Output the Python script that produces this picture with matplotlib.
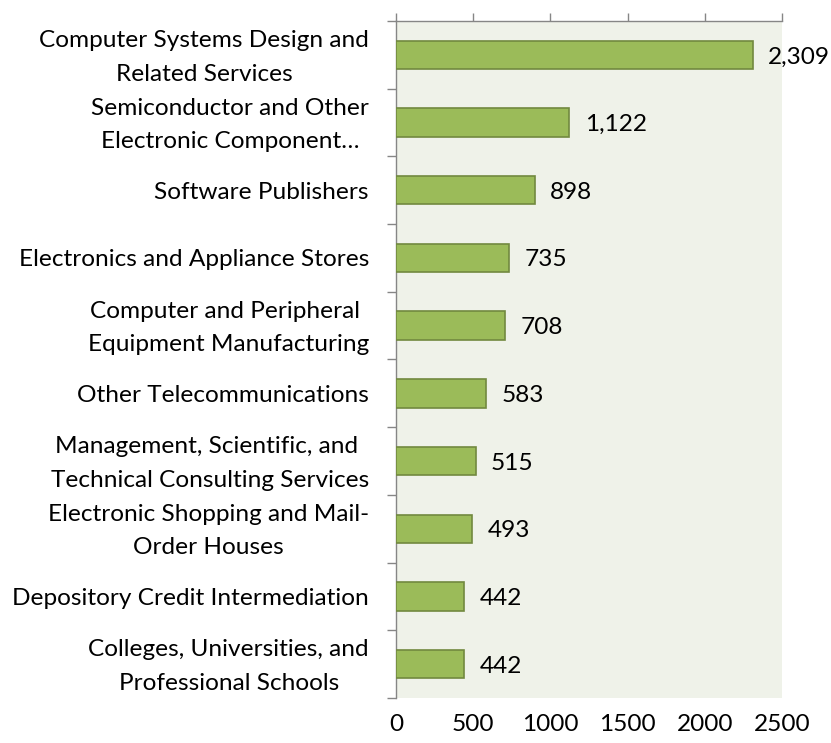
import matplotlib
matplotlib.use("Agg")
import matplotlib.pyplot as plt
import matplotlib.transforms as mtransforms
import numpy as np

categories = [
    "Computer Systems Design and\nRelated Services",
    "Semiconductor and Other\nElectronic Component\u2026",
    "Software Publishers",
    "Electronics and Appliance Stores",
    "Computer and Peripheral \nEquipment Manufacturing",
    "Other Telecommunications",
    "Management, Scientific, and \nTechnical Consulting Services",
    "Electronic Shopping and Mail-\nOrder Houses",
    "Depository Credit Intermediation",
    "Colleges, Universities, and\nProfessional Schools",
]
values = [2309, 1122, 898, 735, 708, 583, 515, 493, 442, 442]
xticks = [0, 500, 1000, 1500, 2000, 2500]

plt.rcParams['font.family'] = ['Lato', 'DejaVu Sans']
FS = 17.6

fig = plt.figure(figsize=(8.31, 7.43), dpi=100)
ax = fig.add_axes([396/831, 1-698/743, 386/831, 677/743])
ax.set_facecolor('#EFF2E9')

y = np.arange(len(categories))
ax.barh(y, values, height=0.42, color='#9BBB59', edgecolor='#71893F', linewidth=1.2, zorder=3)
ax.set_ylim(len(categories)-0.5, -0.5)
ax.set_xlim(0, 2500)

for yi, v in zip(y, values):
    ax.text(v + 100, yi + 0.03, f"{v:,}", va='center', ha='left', fontsize=FS, color='black', clip_on=False)

ax.set_yticks(y)
ax.set_yticklabels(categories, fontsize=FS, multialignment='center', linespacing=1.75)
ax.set_yticks(np.arange(-0.5, len(categories)), minor=True)
ax.tick_params(axis='y', which='major', length=0, pad=27*0.72)
ax.tick_params(axis='y', which='minor', length=9*0.72, color='#868686', width=1)

shift = mtransforms.ScaledTranslation(0, 6/100, fig.dpi_scale_trans)
for lab in ax.get_yticklabels():
    if "\n" in lab.get_text():
        lab.set_transform(lab.get_transform() + shift)

ax.set_xticks(xticks)
ax.set_xticklabels([str(t) for t in xticks], fontsize=FS)
ax.tick_params(axis='x', top=True, bottom=False, labeltop=False, labelbottom=True,
               length=8*0.72, color='#868686', width=1, pad=8*0.72)

for s in ['right', 'bottom']:
    ax.spines[s].set_visible(False)
for s in ['left', 'top']:
    ax.spines[s].set_color('#868686')
    ax.spines[s].set_linewidth(1)

fig.savefig('out.png', dpi=100)
